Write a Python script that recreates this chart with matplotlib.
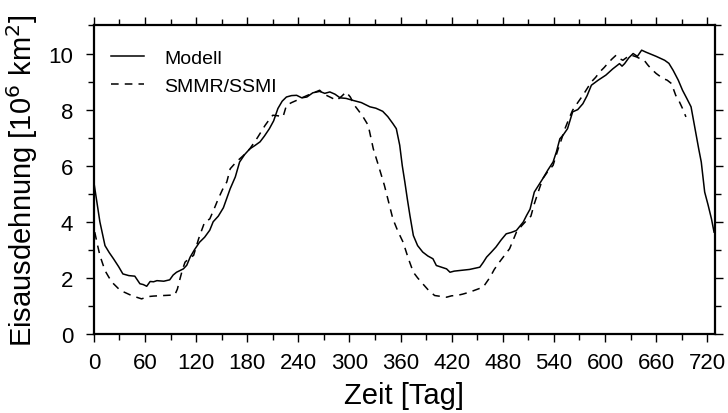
import numpy as np
import matplotlib
matplotlib.use('Agg')
from matplotlib import pyplot as plt
from matplotlib.ticker import MultipleLocator

# Modell
modell_tag = [0, 4, 7, 13, 18, 23, 29, 34, 41, 48, 54, 58, 62, 66, 70, 74, 82, 89, 93, 97, 105, 109, 113, 118, 124, 130, 136, 140, 146, 152,
              160, 166, 171, 177, 183, 189, 195, 200, 206, 211, 216, 221, 226, 232, 238, 244, 250, 257, 265, 271, 277, 283, 289, 296, 304, 314, 324, 331, 339,
              345, 351, 355, 359, 362, 365, 368, 371, 375, 380, 386, 392, 398, 402, 408, 414, 418, 423, 429, 441, 453, 457, 461, 466, 472,
              478, 484, 490, 496, 504, 508, 512, 517, 522, 527, 533, 539, 543, 547, 551, 556, 562, 568, 574, 579, 584, 592, 601, 609, 617, 620, 623,
              628, 633, 638, 643, 648, 652, 660, 670, 675, 680, 686, 691, 696, 701, 704, 707, 710, 713, 717, 721, 725, 728]
modell_wert = [5.4, 4.6, 4.0, 3.15, 2.9, 2.68, 2.4, 2.14, 2.08, 2.06, 1.79, 1.76, 1.70, 1.87, 1.86, 1.90, 1.88, 1.93, 2.10, 2.20, 2.32, 2.45,
               2.74, 3.0, 3.27, 3.45, 3.70, 4.0, 4.2, 4.5, 5.18, 5.6, 6.13, 6.4, 6.60, 6.72, 6.85, 7.05, 7.32, 7.6, 8.04, 8.3, 8.45, 8.50, 8.51,
               8.42, 8.45, 8.60, 8.65, 8.58, 8.63, 8.55, 8.42, 8.40, 8.33, 8.25, 8.10, 8.05, 7.94, 7.75, 7.50, 7.32, 6.73, 6.0, 5.42, 4.8, 4.22,
               3.51, 3.15, 2.92, 2.78, 2.68, 2.44, 2.38, 2.32, 2.20, 2.24, 2.26, 2.30, 2.38, 2.55, 2.74, 2.90, 3.10, 3.35, 3.57, 3.62, 3.69,
               3.99, 4.23, 4.45, 5.06, 5.3, 5.54, 5.85, 6.13, 6.5, 6.96, 7.1, 7.32, 7.92, 8.0, 8.21, 8.5, 8.87, 9.05, 9.23, 9.45, 9.64, 9.55,
               9.64, 9.85, 10.0, 9.9, 10.12, 10.05, 10.0, 9.9, 9.76, 9.65, 9.40, 9.05, 8.69, 8.4, 8.10, 7.6, 7.08, 6.6, 6.13, 5.06, 4.6, 4.10, 3.63]

# SMMR/SSMI
smmr_tag = [1, 4, 7, 13, 17, 21, 26, 31, 37, 42, 49, 56, 63, 70, 82, 95, 98, 101, 104, 107, 112, 117, 123, 130, 136, 141, 146, 151, 156, 160, 167,
            175, 183, 192, 201, 206, 210, 216, 222, 226, 232, 238, 242, 250, 258, 265, 270, 277, 285, 291, 296, 301, 306, 311, 316, 322, 328, 334,
            341, 346, 351, 357, 363, 369, 375, 380, 386, 393, 400, 407, 414, 420, 426, 433, 441, 449, 457, 465, 470, 476, 482, 488, 496, 502, 508,
            513, 517, 522, 527, 533, 539, 545, 549, 553, 558, 562, 568, 574, 579, 584, 589, 594, 599, 603, 608, 613, 617, 621, 625, 629, 633, 637, 641, 646,
            650, 654, 660, 664, 668, 673, 678, 683, 687, 691, 695]
smmr_wert = [3.63, 3.2, 2.80, 2.26, 2.05, 1.85, 1.70, 1.55, 1.47, 1.40, 1.32, 1.25, 1.33, 1.35, 1.37, 1.39, 1.60, 1.96, 2.3, 2.56, 2.70, 2.80, 3.4, 3.99,
             4.10, 4.45, 4.82, 5.15, 5.42, 5.89, 6.13, 6.35, 6.60, 7.0, 7.44, 7.65, 7.80, 7.78, 7.74, 8.15, 8.25, 8.33, 8.39, 8.50, 8.60, 8.69, 8.55,
             8.45, 8.33, 8.48, 8.63, 8.45, 8.15, 7.95, 7.74, 7.44, 6.60, 6.01, 5.30, 4.70, 4.10, 3.65, 3.27, 2.70, 2.20, 2.0, 1.79, 1.55, 1.37,
             1.34, 1.31, 1.36, 1.37, 1.42, 1.49, 1.58, 1.67, 2.02, 2.30, 2.56, 2.80, 3.04, 3.63, 3.85, 4.05, 4.20, 4.64, 5.10, 5.54, 5.80, 6.01,
             6.60, 6.95, 7.32, 7.70, 7.98, 8.25, 8.51, 8.75, 8.99, 9.15, 9.35, 9.50, 9.64, 9.80, 9.94, 9.82, 9.76, 9.85, 9.94, 9.92, 9.88, 9.82,
             9.76, 9.60, 9.46, 9.29, 9.20, 9.11, 9.05, 8.93, 8.51, 8.30, 8.04, 7.74]

plt.rcParams['font.family'] = ['Liberation Sans', 'DejaVu Sans']

fig = plt.figure(figsize=(7.28, 4.14), dpi=100)
ax = fig.add_axes([0.129, 0.191, 0.853, 0.745])

ax.plot(modell_tag, modell_wert, color='black', lw=1.1, label='Modell')
ax.plot(smmr_tag, smmr_wert, color='black', lw=1.1, dashes=(5, 4), label='SMMR/SSMI')

ax.set_xlim(0, 729)
ax.set_ylim(0, 11)
ax.xaxis.set_major_locator(MultipleLocator(60))
ax.xaxis.set_minor_locator(MultipleLocator(30))
ax.yaxis.set_major_locator(MultipleLocator(2))
ax.yaxis.set_minor_locator(MultipleLocator(1))
ax.tick_params(which='both', direction='out', top=True, right=True, labelsize=16, width=1.0)
ax.tick_params(axis='x', which='major', length=6, pad=7)
ax.tick_params(axis='y', which='major', length=6, pad=9)
ax.tick_params(which='minor', length=4)
for s in ax.spines.values():
    s.set_linewidth(1.6)

ax.set_xlabel('Zeit [Tag]', fontsize=21, labelpad=6)
ax.set_ylabel('Eisausdehnung [10$^6$ km$^2$]', fontsize=21, labelpad=6)

ax.legend(loc='upper left', frameon=False, fontsize=14, handlelength=1.7,
          bbox_to_anchor=(0.0, 0.98), labelspacing=0.55, handletextpad=1.0)

plt.savefig('out.png', dpi=100)
